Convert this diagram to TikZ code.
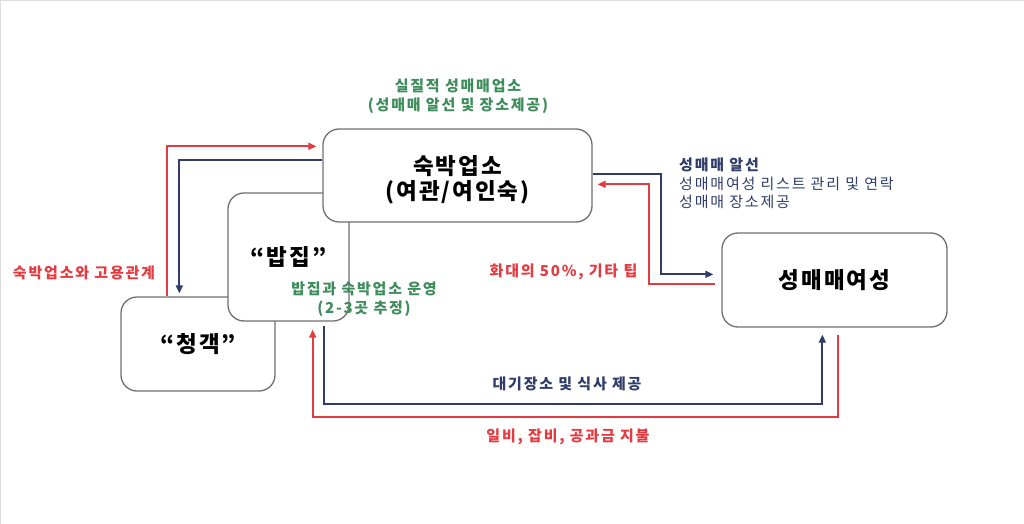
\documentclass[tikz,border=0pt]{standalone}
\usepackage{fontspec}
\newfontfamily\krl[LetterSpace=9]{Noto Sans CJK KR}
\newfontfamily\krs[LetterSpace=12]{Noto Sans CJK KR}
\usetikzlibrary{calc,arrows.meta}
\definecolor{rline}{RGB}{228,58,64}
\definecolor{nline}{RGB}{47,61,104}
\definecolor{gtext}{RGB}{61,140,90}
\definecolor{bgray}{RGB}{112,112,112}
\tikzset{
  box/.style={draw=bgray,line width=1.3pt,rounded corners=16pt,fill=white,inner sep=0pt,
    font=\krl\bfseries\fontsize{22.5}{25.5}\selectfont,align=center},
  boxtext/.style={inner sep=0pt,font=\krl\bfseries\fontsize{22.5}{25.5}\selectfont,align=center},
  rl/.style={draw=rline,line width=1.8pt},
  nl/.style={draw=nline,line width=1.8pt},
  tip/.style={-{Triangle[length=8pt,width=7pt]}},
  small/.style={font=\krs\bfseries\fontsize{15}{19}\selectfont,align=center,inner sep=0pt},
  smallr/.style={font=\krs\fontsize{15}{18.5}\selectfont,align=left,inner sep=0pt},
}
\begin{document}
\begin{tikzpicture}[x=1pt,y=-1pt]
\useasboundingbox (0,0) rectangle (1024,524);
\draw[draw={rgb,255:red,221;green,221;blue,221},line width=1pt] (0.5,524) -- (0.5,0.5) -- (1024,0.5);
% boxes (back to front)
\node[box,minimum width=154pt,minimum height=94pt] (qk) at (198,344) {“청객”};
\node[box,minimum width=121pt,minimum height=128pt] (bj) at (288.5,257) {“밥집”};
\node[box,minimum width=269pt,minimum height=93pt] (sb) at (457.5,175.5) {};
\node[boxtext] (sbt) at (457.5,180) {숙박업소\\(여관/여인숙)};
\node[box,minimum width=225pt,minimum height=94pt] (sw) at (834.5,280) {성매매여성};
% connectors
\draw[rl,tip] ($(qk.north west)+(47,0)$) |- ($(sb.north west)+(-6,18)$);
\draw[nl,tip] ($(sb.north west)+(0,32)$) -| ($(qk.north west)+(59,-3)$);
\draw[nl,tip] ($(sb.north east)+(0,46)$) -- ($(sb.north east)+(68,46)$) |- ($(sw.north west)+(-8,42)$);
\draw[rl,tip] ($(sw.north west)+(-6,52)$) -| ($(sb.north east)+(56,56)$) -- ($(sb.north east)+(5,56)$);
\draw[nl,tip] ($(bj.south east)+(-26,4)$) |- ($(sw.south west)+(101,76)$) -- ($(sw.south west)+(101,7)$);
\draw[rl,tip] ($(sw.south west)+(117,7)$) |- ($(bj.south east)+(-37,95)$) -- ($(bj.south east)+(-37,8)$);
% labels
\node[small,text=gtext] (l1) at (458,96.5) {실질적 성매매업소\\(성매매 알선 및 장소제공)};
\node[smallr,text=nline,anchor=west] (l2) at (679,183.5) {\bfseries 성매매 알선\\성매매여성 리스트 관리 및 연락\\성매매 장소제공};
\node[small,text=rline] (l3) at (84,273) {숙박업소와 고용관계};
\node[small,text=gtext] (l4) at (364,299) {밥집과 숙박업소 운영\\(2-3곳 추정)};
\node[small,text=rline] (l5) at (563.5,272) {화대의 50\%, 기타 팁};
\node[small,text=nline] (l6) at (567,384) {대기장소 및 식사 제공};
\node[small,text=rline] (l7) at (568,437) {일비, 잡비, 공과금 지불};
\end{tikzpicture}
\end{document}
